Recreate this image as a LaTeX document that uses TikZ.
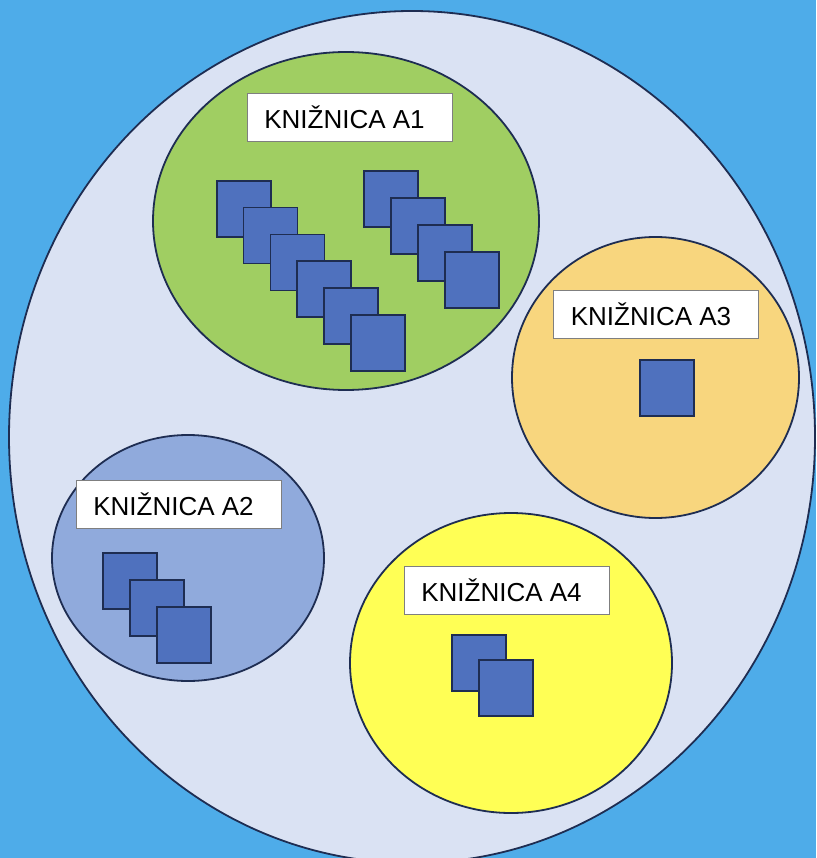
\documentclass[tikz,border=0pt]{standalone}
\usepackage{fontspec}
\setmainfont{Liberation Sans}
\usetikzlibrary{shapes.geometric}
\definecolor{bgblue}{HTML}{4EACE9}
\definecolor{outerfill}{HTML}{DAE2F3}
\definecolor{greenfill}{HTML}{A0CE62}
\definecolor{orangefill}{HTML}{F8D67E}
\definecolor{bluefill}{HTML}{90AADC}
\definecolor{yellowfill}{HTML}{FFFF55}
\definecolor{sqfill}{HTML}{4F71BE}
\definecolor{navy}{HTML}{1E2D52}
\definecolor{boxgray}{HTML}{7F7F7F}
\begin{document}
\begin{tikzpicture}[x=1pt,y=-1pt,
  zone/.style={ellipse,draw=navy,line width=1.8pt,inner sep=0pt},
  book/.style={rectangle,draw=navy,line width=1.6pt,fill=sqfill,inner sep=0pt,
    minimum width=54pt,minimum height=56pt,anchor=north west},
  lbl/.style={rectangle,draw=boxgray,line width=0.8pt,fill=white,inner sep=0pt,
    minimum width=205pt,minimum height=48pt,font=\fontsize{26}{30}\selectfont}]
\useasboundingbox (0,0) rectangle (816,858);
\fill[bgblue] (0,0) rectangle (816,858);
\begin{scope}
\clip (0,0) rectangle (816,858);
\node[zone,fill=outerfill,minimum width=806pt,minimum height=852pt] (outer) at (412,437) {};
\end{scope}
% zones
\node[zone,fill=greenfill,minimum width=386pt,minimum height=338pt] (zA1) at (346,221) {};
\node[zone,fill=orangefill,minimum width=287pt,minimum height=281pt] (zA3) at (655.5,377.5) {};
\node[zone,fill=bluefill,minimum width=272pt,minimum height=246pt] (zA2) at (188,558) {};
\node[zone,fill=yellowfill,minimum width=322pt,minimum height=300pt] (zA4) at (511,663) {};
% A1 left stack
\foreach \i in {0,...,5} {
  \node[book] (bL\i) at ({216+26.8*\i},{180+26.8*\i}) {};
}
% A1 right stack
\foreach \i in {0,...,3} {
  \node[book] (bR\i) at ({363+27*\i},{170+27*\i}) {};
}
% A3
\node[book] (b3) at (639,359) {};
% A2 stack
\foreach \i in {0,...,2} {
  \node[book] (b2\i) at ({102+27*\i},{552+27*\i}) {};
}
% A4 stack
\node[book] (b40) at (451,634) {};
\node[book] (b41) at (478,659) {};
% labels
\node[lbl] (lA1) at (349.5,117.5) {\hspace*{-10pt}KNIŽNICA A1};
\node[lbl] (lA3) at (656,314.5) {\hspace*{-10pt}KNIŽNICA A3};
\node[lbl] (lA2) at (178.5,504.5) {\hspace*{-10pt}KNIŽNICA A2};
\node[lbl] (lA4) at (506.5,590.5) {\hspace*{-10pt}KNIŽNICA A4};
\end{tikzpicture}
\end{document}
